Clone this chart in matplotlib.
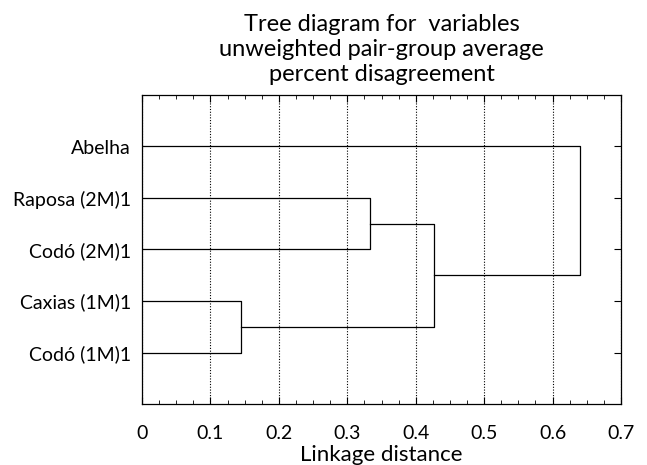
import matplotlib
matplotlib.use('Agg')
import matplotlib.pyplot as plt
from matplotlib.ticker import MultipleLocator, FuncFormatter

plt.rcParams['font.family'] = ['Lato', 'DejaVu Sans']

# leaves, top to bottom
labels = ['Abelha', 'Raposa (2M)1', 'Codó (2M)1', 'Caxias (1M)1', 'Codó (1M)1']
# merges: (cluster a, cluster b, linkage distance)
# clusters 0-4 are the leaves, each merge makes the next index
merges = [(3, 4, 0.145), (1, 2, 0.333), (6, 5, 0.427), (0, 7, 0.640)]

fig = plt.figure(figsize=(6.47, 4.65), dpi=100)
ax = fig.add_axes([142/647, 61/465, 479/647, 309/465])

pos = {i: (i + 1, 0.0) for i in range(len(labels))}
nxt = len(labels)
for a, b, d in merges:
    ya, xa = pos[a]
    yb, xb = pos[b]
    ax.plot([xa, d, d, xb], [ya, ya, yb, yb], color='black', lw=0.9)
    pos[nxt] = ((ya + yb) / 2, d)
    nxt += 1

ax.set_xlim(0, 0.7)
ax.set_ylim(6, 0)
ax.xaxis.set_major_locator(MultipleLocator(0.1))
ax.xaxis.set_minor_locator(MultipleLocator(0.025))
ax.xaxis.set_major_formatter(FuncFormatter(lambda v, p: '0' if abs(v) < 1e-9 else f'{v:.1f}'))
ax.set_yticks(range(1, len(labels) + 1))
ax.set_yticklabels(labels)
ax.grid(axis='x', which='major', color='black', linestyle=(0, (1, 1.5)), lw=0.8)

ax.tick_params(axis='x', which='both', direction='in', top=True, bottom=True, labelsize=14, pad=15)
ax.tick_params(axis='x', which='major', length=5)
ax.tick_params(axis='x', which='minor', length=3)
ax.tick_params(axis='y', direction='in', left=False, right=True, length=5, labelsize=14, pad=8)
for s in ax.spines.values():
    s.set_linewidth(0.9)

ax.set_xlabel('Linkage distance', fontsize=16, labelpad=2)
ax.set_title('Tree diagram for  variables\nunweighted pair-group average\npercent disagreement',
             fontsize=17, pad=10, linespacing=1.25)

fig.savefig('out.png', dpi=100)
